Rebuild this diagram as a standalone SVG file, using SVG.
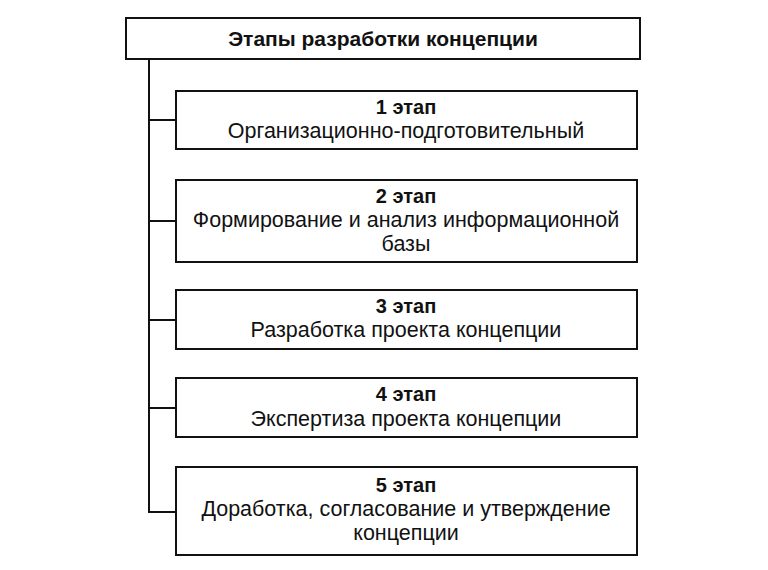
<svg xmlns="http://www.w3.org/2000/svg" width="768" height="570" viewBox="0 0 768 570">
<style>
.box{fill:#fff;stroke:#111;stroke-width:2}
line{stroke:#111;stroke-width:2}
text{font-family:"Liberation Sans",Arial,sans-serif;font-size:21.5px;fill:#111;text-anchor:middle}
.b{font-weight:bold;font-size:20px}
.t{font-weight:bold;font-size:21px}
</style>
<rect width="768" height="570" fill="#fff"/>
<g id="connectors">
<line x1="149" y1="59" x2="149" y2="513"/>
<line x1="148" y1="120" x2="176" y2="120"/>
<line x1="148" y1="221" x2="176" y2="221"/>
<line x1="148" y1="320" x2="176" y2="320"/>
<line x1="148" y1="408" x2="176" y2="408"/>
<line x1="148" y1="512" x2="176" y2="512"/>
</g>
<g id="title"><rect class="box" x="126" y="18" width="514" height="41"/><text class="t" x="383" y="46">Этапы разработки концепции</text></g>
<g id="s1"><rect class="box" x="176" y="91" width="461" height="58"/><text class="b" x="406" y="114">1 этап</text><text x="406" y="138">Организационно-подготовительный</text></g>
<g id="s2"><rect class="box" x="176" y="180" width="461" height="82"/><text class="b" x="406" y="203">2 этап</text><text x="406" y="227">Формирование и анализ информационной</text><text x="406" y="251">базы</text></g>
<g id="s3"><rect class="box" x="176" y="290" width="461" height="59"/><text class="b" x="406" y="313">3 этап</text><text x="406" y="337">Разработка проекта концепции</text></g>
<g id="s4"><rect class="box" x="176" y="378" width="461" height="59"/><text class="b" x="406" y="401">4 этап</text><text x="406" y="426">Экспертиза проекта концепции</text></g>
<g id="s5"><rect class="box" x="176" y="467" width="461" height="88"/><text class="b" x="406" y="492">5 этап</text><text x="406" y="516">Доработка, согласование и утверждение</text><text x="406" y="540">концепции</text></g>
</svg>
